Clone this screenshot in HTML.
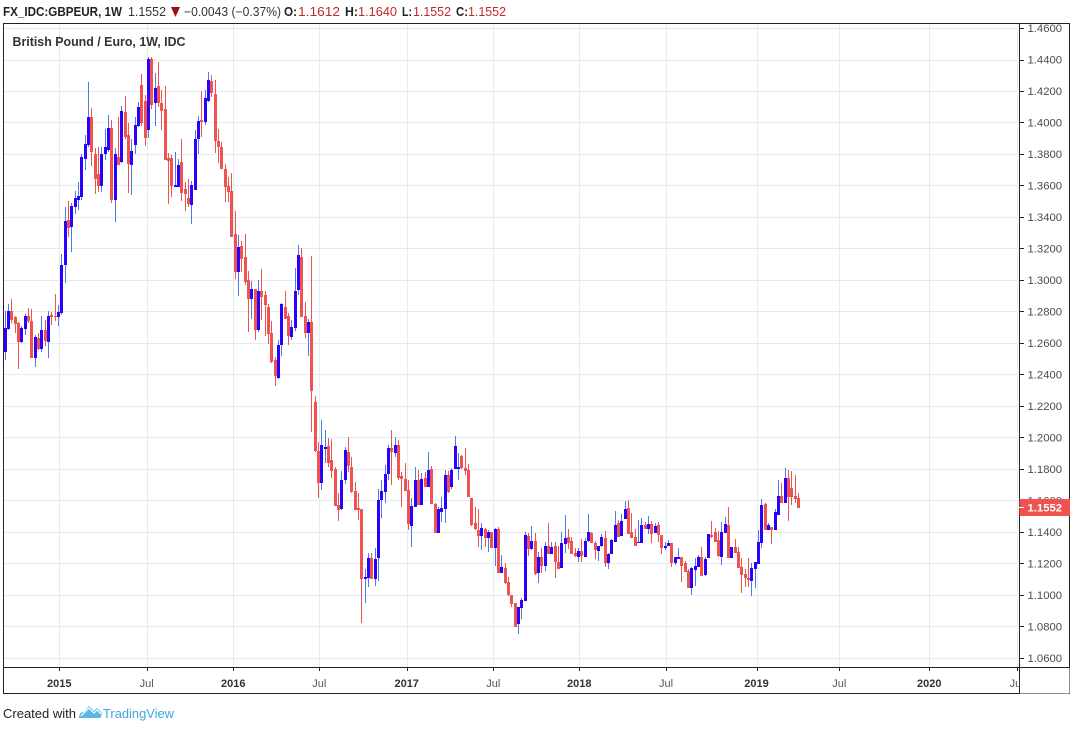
<!DOCTYPE html>
<html>
<head>
<meta charset="utf-8">
<style>
  html,body{margin:0;padding:0;background:#fff;}
  body{width:1074px;height:729px;overflow:hidden;}
  svg{display:block;}
  text{font-family:"Liberation Sans",Arial,sans-serif;}
</style>
</head>
<body>
<svg id="s" width="1074" height="729" viewBox="0 0 1074 729" xmlns="http://www.w3.org/2000/svg">
  <rect x="0" y="0" width="1074" height="729" fill="#ffffff"/>
  <g id="grid"></g>
  <g id="candles"></g>
  <g id="axes"></g>

  <!-- header -->
  <text x="3" y="16" font-size="12.5" font-weight="bold" fill="#222" textLength="119" lengthAdjust="spacingAndGlyphs">FX_IDC:GBPEUR, 1W</text>
  <text x="128" y="16" font-size="12.5" fill="#333" textLength="38" lengthAdjust="spacingAndGlyphs">1.1552</text>
  <polygon points="171,7 180,7 175.5,17" fill="#9b1111"/>
  <text x="184" y="16" font-size="12.5" fill="#333" textLength="97" lengthAdjust="spacingAndGlyphs">−0.0043 (−0.37%)</text>
  <text x="284" y="16" font-size="12.5" font-weight="bold" fill="#222" textLength="13" lengthAdjust="spacingAndGlyphs">O:</text>
  <text x="298" y="16" font-size="12.5" fill="#c0292a" textLength="42" lengthAdjust="spacingAndGlyphs">1.1612</text>
  <text x="345" y="16" font-size="12.5" font-weight="bold" fill="#222" textLength="13" lengthAdjust="spacingAndGlyphs">H:</text>
  <text x="358" y="16" font-size="12.5" fill="#c0292a" textLength="39" lengthAdjust="spacingAndGlyphs">1.1640</text>
  <text x="402" y="16" font-size="12.5" font-weight="bold" fill="#222" textLength="10" lengthAdjust="spacingAndGlyphs">L:</text>
  <text x="413" y="16" font-size="12.5" fill="#c0292a" textLength="38" lengthAdjust="spacingAndGlyphs">1.1552</text>
  <text x="456" y="16" font-size="12.5" font-weight="bold" fill="#222" textLength="12" lengthAdjust="spacingAndGlyphs">C:</text>
  <text x="468" y="16" font-size="12.5" fill="#c0292a" textLength="38" lengthAdjust="spacingAndGlyphs">1.1552</text>

  <!-- title -->
  <text x="12.5" y="46" font-size="12.5" font-weight="bold" fill="#333" textLength="173" lengthAdjust="spacingAndGlyphs">British Pound / Euro, 1W, IDC</text>

  <!-- footer -->
  <text x="3" y="718" font-size="13" fill="#222" textLength="73" lengthAdjust="spacingAndGlyphs">Created with</text>
  <g fill="#5ab8e8">
    <path d="M79,718 C79,714 81,712 84,712 L89,706 L94,711 L97,708 L101,712 C102,713 102,716 100,718 Z"/>
  </g>
  <path d="M81,716 L89,708 L94,713 L97,710 L101,714" stroke="#ffffff" stroke-width="1.2" fill="none"/>
  <text x="103" y="718" font-size="13" fill="#3ea6dc" textLength="71" lengthAdjust="spacingAndGlyphs">TradingView</text>
</svg>

<script>
(function(){
  var NS="http://www.w3.org/2000/svg";
  function el(parent,tag,attrs,txt){
    var e=document.createElementNS(NS,tag);
    for(var k in attrs) e.setAttribute(k,attrs[k]);
    if(txt!==undefined) e.textContent=txt;
    parent.appendChild(e); return e;
  }
  var grid=document.getElementById('grid');
  var axes=document.getElementById('axes');
  var cg=document.getElementById('candles');
  function py(p){return 28+(1.46-p)*1575;}

  // horizontal grid
  for(var i=0;i<=20;i++){
    var p=1.06+i*0.02; var y=Math.round(py(p))+0.5;
    el(grid,'line',{x1:3,x2:1019,y1:y,y2:y,stroke:'#e3ecf3','stroke-width':1});
  }
  // vertical grid
  var vx=[[59.3,'2015',1],[146.7,'Jul',0],[233.3,'2016',1],[319.3,'Jul',0],[406.7,'2017',1],[493.3,'Jul',0],[579.3,'2018',1],[666,'Jul',0],[756.5,'2019',1],[839.3,'Jul',0],[929.3,'2020',1],[1016.7,'Jul',0]];
  vx.forEach(function(v){
    var x=Math.round(v[0])+0.5;
    el(grid,'line',{x1:x,x2:x,y1:23,y2:667,stroke:'#e3ecf3','stroke-width':1});
  });

  // candles
  var groups=[
   [50,[
['b',833,905,783,930],['b',783,837,762,840],['r',783,810,747,818],['r',800,822,797,848],['r',818,875,815,957],
['b',833,875,828,878],['b',797,837,792,855],['r',797,813,773,820],['r',813,923,777,923],['b',860,923,855,950],
['r',863,897,848,900],['b',840,897,797,905],['r',840,872,810,888],['b',797,875,783,923],['r',795,800,785,825],
['r',797,800,732,812],['b',787,800,765,828],['b',645,788,612,795],['b',513,645,470,698],['r',510,535,453,560],
['b',468,530,460,605],['b',445,470,423,493],['b',438,450,396,480],['b',320,440,312,450],['b',282,327,255,360],
['b',200,285,96,290],['r',200,305,175,348],['r',312,387,293,432],['r',372,408,292,425],['b',312,408,290,425],
['b',292,312,236,330],['b',235,300,195,305],['r',233,450,210,458],['b',312,450,295,515],['r',320,345,200,345],
['b',183,335,168,340],['r',185,262,138,268],['r',255,342,218,428],['b',303,345,266,435],['b',225,285,200,312],
['b',170,228,155,230],['r',105,218,72,228],['r',153,263,135,288],['b',27,240,20,265],['r',27,165,22,177],
['b',113,158,68,228],['r',108,160,36,170],['r',158,183,120,240],['r',178,330,108,330],['r',323,333,308,462],
['r',323,408,315,440],['b',405,410,306,410],['b',345,410,327,410],['r',337,428,267,452],['r',417,433,397,482],
['r',443,462,387,470],['b',405,465,393,523],['b',267,420,240,420],['b',213,268,198,312],['r',210,215,122,260],
['b',145,215,120,225],['b',90,152,67,155],['r',93,128,75,140],['r',132,273,90,310],['r',272,292,237,338],
['r',290,358,276,358],['r',357,410,342,457],['r',407,425,380,455],['r',423,560,368,560],['r',552,665,483,688],
['b',592,665,555,737]
   ]],
   [180,[
['r',198,237,183,275],['r',232,305,162,315],['r',300,358,273,455],['b',327,357,303,417],['r',327,450,327,480],
['b',333,450,300,455],['r',333,350,267,420],['r',345,375,333,467],['r',380,462,372,492],['r',460,545,422,548],
['r',540,588,530,617],['b',495,593,480,597],['b',372,495,370,527],['r',382,418,333,418],['r',408,468,400,495],
['b',441,470,420,480],['b',333,443,263,452],['b',225,330,195,345],['r',232,410,205,410],['r',408,458,367,475],
['b',427,458,417,527],['r',427,632,228,755]
   ]],
   [380,[
['r',65,213,48,217],['r',213,308,185,353],['b',195,308,120,330],['b',200,208,150,250],['r',198,248,173,260],
['r',240,272,177,295],['r',268,377,262,377],['r',375,390,340,422],['b',300,387,273,390],['b',210,300,200,313],
['r',215,258,172,275],['r',262,337,232,340],['r',333,390,305,390],['r',385,390,340,420],['r',387,598,387,730],
['b',590,597,568,668],['b',535,593,520,620],['r',535,598,520,598],['b',537,597,505,617],['b',360,533,327,603],
['b',333,360,300,413],['b',283,335,255,368],['b',205,283,195,300],['r',205,215,150,315],['b',195,218,172,232],
['r',195,293,180,300],['r',288,298,277,380],['r',297,333,250,333],['r',330,432,300,450],['b',378,438,355,500],
['b',300,380,262,382],['r',300,375,270,375],['b',297,375,280,375],['r',293,320,275,322],['b',270,320,216,320],
['r',268,373,258,373],['r',373,458,370,460],['b',387,458,380,458],['b',385,395,350,427],['b',285,387,270,430],
['r',285,337,272,340],['b',270,322,265,328],['b',198,267,168,268],['b',262,267,218,300],['r',228,265,225,268],
['r',265,272,205,285],['r',270,350,253,352],['r',353,435,353,437],['r',428,447,380,450],['r',450,467,387,500],
['b',445,467,430,510],['r',448,475,445,500],['b',455,475,450,517],['r',455,503,455,503],['b',447,503,445,557],
['r',447,578,440,580],['b',562,578,525,578],['r',565,610,548,612],['r',605,645,592,648],['r',645,672,645,680],
['r',670,740,670,740],['b',682,733,680,762]
   ]],
   [460,[
['b',420,443,413,477],['b',225,422,215,422],['r',228,268,218,287],['b',243,268,198,270],['r',243,343,220,345],
['b',290,340,275,368],['r',290,317,265,340],['b',258,317,245,332],['r',258,282,188,282],['b',262,282,245,282],
['r',258,307,245,355],['r',307,327,258,327],['b',250,323,215,323],['b',235,253,165,280],['r',232,248,207,268],
['r',243,282,230,282],['r',280,287,265,290],['b',273,290,265,305],['r',273,287,237,305],['b',243,290,235,292],
['b',215,243,162,245],['r',220,248,215,248],['r',248,270,243,297],['b',257,272,257,302],['b',232,258,222,260],
['r',233,308,212,320],['b',282,308,278,328],['b',240,283,237,283],['b',195,245,153,245],['r',188,230,180,230],
['b',183,228,162,228],['b',148,177,123,177],['r',145,222,120,222],['r',215,235,158,235],['r',232,257,207,257],
['b',247,250,180,250],['b',195,248,175,248],['r',195,207,187,207],['b',193,208,168,223],['r',193,222,183,250],
['b',198,218,188,220],['r',195,225,185,247],['r',225,263,225,283],['b',258,265,245,270],['b',250,258,240,258],
['r',250,308,250,322],['b',292,310,292,315],['b',292,296,265,296],['r',292,317,290,365],['r',310,335,302,335],
['r',333,383,328,383],['b',325,383,320,405],['b',318,330,295,378],['b',292,320,285,320],['r',292,348,262,348],
['b',298,345,292,348],['b',222,293,222,295],['r',225,232,183,235],['r',215,245,203,245],['r',240,288,213,290],
['b',215,290,185,315],['b',192,218,170,218],['r',195,293,140,293],['b',262,293,262,293],['r',262,280,237,280],
['r',276,325,262,325],['r',322,345,295,398],['r',342,353,328,382],['r',353,360,295,382],['b',323,362,310,407],
['b',307,326,305,383],['b',247,313,210,313],['b',135,250,118,265],['r',133,210,128,210],['b',196,210,190,210],
['r',200,210,200,253],['b',155,210,148,210],['b',108,165,60,165],['r',108,128,68,128],['b',55,128,25,128],
['r',55,110,30,182],['r',85,110,32,135],['r',108,117,45,130],['r',115,143,100,143]
   ]]
  ];
  var idx=0;
  groups.forEach(function(g){
    var y0=g[0];
    g[1].forEach(function(c){
      var xc=5+idx*10/3; idx++;
      var bt=Math.round(y0+c[1]/3), bb=Math.round(y0+c[2]/3), wt=Math.round(y0+c[3]/3), wb=Math.round(y0+c[4]/3);
      if(bb-bt<1){bb=bt+1;}
      if(wb<bb) wb=bb; if(wt>bt) wt=bt;
      var body=c[0]==='b'?'#2a00ff':'#ef5350';
      var wick=c[0]==='b'?'#4a7be6':'#ef5350';
      var left=Math.round(xc-1.5);
      el(cg,'rect',{x:left+1,y:wt,width:1,height:wb-wt,fill:wick,'shape-rendering':'crispEdges'});
      el(cg,'rect',{x:left,y:bt,width:3,height:bb-bt,fill:body,'shape-rendering':'crispEdges'});
    });
  });

  // axes frame
  el(axes,'rect',{x:3.5,y:23.5,width:1066,height:670,fill:'none',stroke:'#222','stroke-width':1});
  el(axes,'line',{x1:1019.5,x2:1019.5,y1:23,y2:694,stroke:'#222','stroke-width':1});
  el(axes,'line',{x1:3,x2:1070,y1:667.5,y2:667.5,stroke:'#222','stroke-width':1});
  // price labels
  for(var i=0;i<=20;i++){
    var p=1.06+i*0.02; var y=py(p);
    var yy=Math.round(y)+0.5;
    el(axes,'line',{x1:1019,x2:1024,y1:yy,y2:yy,stroke:'#222','stroke-width':1});
    el(axes,'text',{x:1027.5,y:(y+4).toFixed(1),'font-size':11.3,fill:'#4a4a4a'},p.toFixed(4));
  }
  // time labels
  vx.forEach(function(v){
    var x=Math.round(v[0])+0.5;
    el(axes,'line',{x1:x,x2:x,y1:667,y2:671,stroke:'#222','stroke-width':1});
    if(v[2]){
      el(axes,'text',{x:v[0],y:687,'font-size':11,'font-weight':'bold',fill:'#333','text-anchor':'middle'},v[1]);
    } else {
      el(axes,'text',{x:v[0],y:687,'font-size':11,fill:'#555','text-anchor':'middle'},v[1]);
    }
  });
  el(axes,'rect',{x:1020,y:668,width:49.5,height:25.5,fill:'#fff'});
  // current price label
  el(axes,'rect',{x:1019.5,y:499,width:50.5,height:17,fill:'#ef5350'});
  el(axes,'line',{x1:1019,x2:1024,y1:507.5,y2:507.5,stroke:'#fff','stroke-width':1});
  el(axes,'text',{x:1027.5,y:511.5,'font-size':11.3,'font-weight':'bold',fill:'#fff'},'1.1552');
})();
</script>
</body>
</html>
